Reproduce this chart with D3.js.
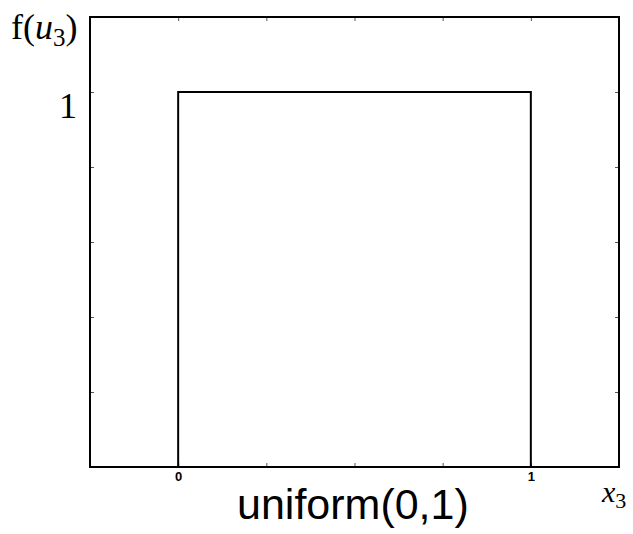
<!DOCTYPE html>
<html>
<head>
<meta charset="utf-8">
<script src="https://cdn.jsdelivr.net/npm/d3@7"></script>
<style>
  body { margin: 0; background: #fff; }
  svg { display: block; }
</style>
</head>
<body>
<div id="chart"></div>
<script>
const width = 633
const height = 534

// density of uniform(0,1), drawn as a step outline
const stepX = [0, 0, 1, 1]
const stepY = [0, 1, 1, 0]

const xTicks = [-0.25, 0, 0.25, 0.5, 0.75, 1, 1.25]
const xTickLabels = {0: "0", 1: "1"}
const yTicks = [0, 0.2, 0.4, 0.6, 0.8, 1, 1.2]

const margin = {top: 17, right: 14, bottom: 67, left: 90}

const x = d3.scaleLinear().domain([-0.25, 1.25]).range([margin.left, width - margin.right])
const y = d3.scaleLinear().domain([0, 1.2]).range([height - margin.bottom, margin.top])

const svg = d3.select("#chart")
  .append("svg")
  .attr("width", width)
  .attr("height", height)

const tickLen = 4

// inward ticks on all four sides
const xAxisB = d3.axisBottom(x).tickValues(xTicks).tickSizeInner(-tickLen).tickSizeOuter(0)
  .tickFormat(d => xTickLabels[d] || "")
const xAxisT = d3.axisTop(x).tickValues(xTicks).tickSizeInner(-tickLen).tickSizeOuter(0).tickFormat("")
const yAxisL = d3.axisLeft(y).tickValues(yTicks).tickSizeInner(-tickLen).tickSizeOuter(0).tickFormat("")
const yAxisR = d3.axisRight(y).tickValues(yTicks).tickSizeInner(-tickLen).tickSizeOuter(0).tickFormat("")

function styleAxis(g) {
  g.select(".domain").remove()
  g.selectAll(".tick line").attr("stroke", "#555").attr("stroke-width", 1)
}

svg.append("g").attr("transform", `translate(0,${y(0)})`).call(xAxisB).call(styleAxis)
  .selectAll(".tick text")
  .attr("dy", "0.85em")
  .style("font-family", "'Liberation Sans', Arial, sans-serif")
  .style("font-size", "13px")
  .style("font-weight", "bold")
  .attr("fill", "#000")
svg.append("g").attr("transform", `translate(0,${y(1.2)})`).call(xAxisT).call(styleAxis)
svg.append("g").attr("transform", `translate(${x(-0.25)},0)`).call(yAxisL).call(styleAxis)
svg.append("g").attr("transform", `translate(${x(1.25)},0)`).call(yAxisR).call(styleAxis)

// box
svg.append("rect")
  .attr("x", x(-0.25))
  .attr("y", y(1.2))
  .attr("width", x(1.25) - x(-0.25))
  .attr("height", y(0) - y(1.2))
  .attr("fill", "none")
  .attr("stroke", "#000")
  .attr("stroke-width", 2)

// step line
const line = d3.line().x(d => x(d[0])).y(d => y(d[1]))
svg.append("path")
  .datum(d3.zip(stepX, stepY))
  .attr("d", line)
  .attr("fill", "none")
  .attr("stroke", "#000")
  .attr("stroke-width", 2)

const serif = "'Liberation Serif', 'Times New Roman', serif"

// y label f(u3)
const yl = svg.append("text")
  .attr("x", 11)
  .attr("y", 39)
  .style("font-family", serif)
  .style("font-size", "36px")
yl.append("tspan").text("f(")
yl.append("tspan").style("font-style", "italic").text("u")
yl.append("tspan").attr("dy", 7).style("font-size", "25px").text("3")
yl.append("tspan").attr("dy", -7).text(")")

// big "1" on y axis
svg.append("text")
  .attr("x", 77)
  .attr("y", 118)
  .attr("text-anchor", "end")
  .style("font-family", serif)
  .style("font-size", "36px")
  .text("1")

// x label x3
const xl = svg.append("text")
  .attr("x", 602)
  .attr("y", 502)
  .style("font-family", serif)
  .style("font-size", "30px")
xl.append("tspan").style("font-style", "italic").text("x")
xl.append("tspan").attr("dy", 6).style("font-size", "22px").text("3")

// title below
svg.append("text")
  .attr("x", 237)
  .attr("y", 519)
  .style("font-family", "'Liberation Sans', Arial, sans-serif")
  .style("font-size", "43px")
  .text("uniform(0,1)")
</script>
</body>
</html>
